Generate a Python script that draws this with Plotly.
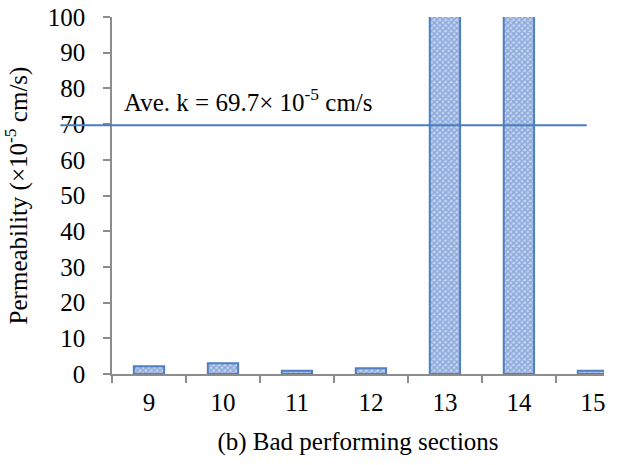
import plotly.graph_objects as go

sections = ["9", "10", "11", "12", "13", "14", "15"]
permeability = [2.2, 3.0, 0.9, 1.6, 245.0, 234.2, 0.9]
avg_k = 69.7
y_ticks = [0, 10, 20, 30, 40, 50, 60, 70, 80, 90, 100]

FONT = '"Liberation Serif", "Times New Roman", "DejaVu Serif", serif'
AXIS = "#8c8c8c"
FS = 25

fig = go.Figure()
fig.add_trace(go.Bar(
    x=sections, y=permeability, width=0.41,
    marker=dict(
        color="#b0c6ea",
        line=dict(color="#4f7fc0", width=2),
        pattern=dict(shape="x", fgcolor="#4f7ac2", bgcolor="#c3d4f0", size=4, solidity=0.6),
    ),
    showlegend=False,
))

fig.add_shape(type="line", xref="paper", yref="y", x0=-0.105, x1=0.965, y0=avg_k, y1=avg_k,
              line=dict(color="#4a7ebb", width=2), layer="above")
fig.add_annotation(xref="paper", yref="y", x=0.02, y=avg_k + 2.0, xanchor="left", yanchor="bottom",
                   text="Ave. k = 69.7× 10<sup>-5</sup> cm/s", showarrow=False,
                   font=dict(family=FONT, size=FS, color="black"))

fig.update_layout(
    width=620, height=465,
    margin=dict(l=112, r=16, t=17, b=91, autoexpand=False),
    paper_bgcolor="white", plot_bgcolor="white",
    font=dict(family=FONT, size=FS, color="black"),
    xaxis=dict(
        range=[-0.5, 6.15], tickson="boundaries", ticks="outside", ticklen=7, tickwidth=1.5,
        tickcolor=AXIS, showline=True, linecolor=AXIS, linewidth=1.5, showgrid=False,
        automargin=False, ticklabelstandoff=5,
        title=dict(text="(b) Bad performing sections", font=dict(family=FONT, size=FS), standoff=18),
        tickfont=dict(family=FONT, size=FS),
    ),
    yaxis=dict(
        range=[0, 100], tickvals=y_ticks, ticks="outside", ticklen=7, tickwidth=1.5,
        tickcolor=AXIS, showline=True, linecolor=AXIS, linewidth=1.5, showgrid=False,
        zeroline=False, automargin=False, ticklabelstandoff=13,
        title=dict(text="Permeability (×10<sup>-5</sup> cm/s)", font=dict(family=FONT, size=FS), standoff=14),
        tickfont=dict(family=FONT, size=FS),
    ),
)

fig.write_html("out.html")
